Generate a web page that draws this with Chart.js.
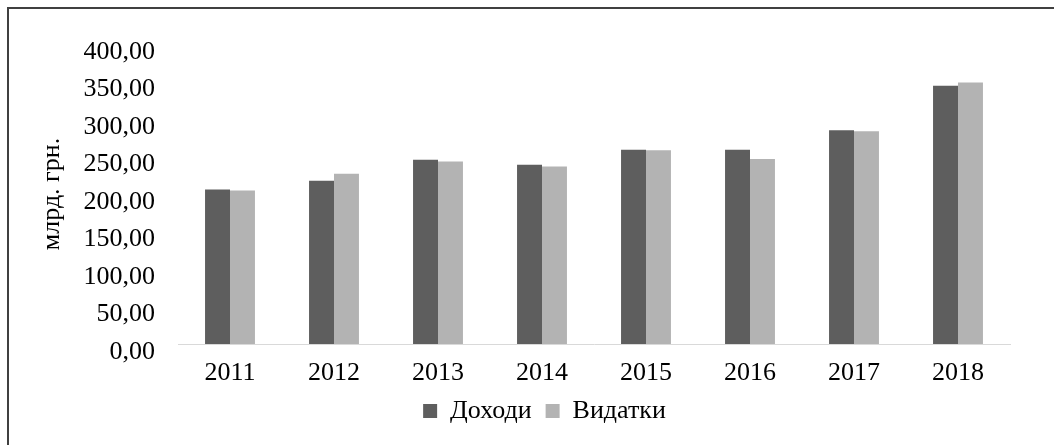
<!DOCTYPE html>
<html>
<head>
<meta charset="utf-8">
<script src="https://cdn.jsdelivr.net/npm/chart.js@4/dist/chart.umd.min.js"></script>
<style>
  html, body { margin: 0; padding: 0; background: #fff; }
  #wrap { width: 1054px; height: 445px; position: relative; }
</style>
</head>
<body>
<div id="wrap"><canvas id="barChart"></canvas></div>
<script>
// data
var years = ["2011", "2012", "2013", "2014", "2015", "2016", "2017", "2018"];
var revenues = [206.0, 217.7, 245.8, 239.1, 259.1, 259.1, 284.9, 344.2];
var expenses = [204.7, 227.0, 243.5, 236.8, 258.2, 246.6, 283.6, 348.7];
var yTickLabels = ["0,00", "50,00", "100,00", "150,00", "200,00", "250,00", "300,00", "350,00", "400,00"];

var serif = "'Liberation Serif', 'Times New Roman', serif";

// frame round the chart (only left and top edges are in the picture)
// + nudge the legend a bit right like in the original
var framePlugin = {
	id: 'frame',
	afterLayout: function (chart) {
		if (chart.legend) {
			chart.legend.left += 23;
			chart.legend.right += 23;
		}
	},
	afterDraw: function (chart) {
		var c = chart.ctx;
		c.save();
		c.strokeStyle = '#404040';
		c.lineWidth = 2;
		c.beginPath();
		c.moveTo(8, chart.height);
		c.lineTo(8, 8);
		c.lineTo(chart.width, 8);
		c.stroke();
		c.restore();
	}
};

var ctx = document.getElementById("barChart").getContext('2d');

var myChart = new Chart(ctx, {
	type: 'bar',
	data: {
		labels: years,
		datasets: [{
			label: "Доходи",
			data: revenues,
			backgroundColor: "#5e5e5e",
			borderWidth: 0
		}, {
			label: "Видатки",
			data: expenses,
			backgroundColor: "#b3b3b3",
			borderWidth: 0
		}]
	},
	options: {
		responsive: true,
		maintainAspectRatio: false,
		animation: false,
		layout: {
			padding: { left: 33, right: 44, top: 44, bottom: 11 }
		},
		datasets: {
			bar: { categoryPercentage: 0.48, barPercentage: 1.0 }
		},
		plugins: {
			tooltip: { enabled: false },
			legend: {
				display: true,
				position: 'bottom',
				labels: {
					color: '#000',
					font: { family: serif, size: 26 },
					boxWidth: 14,
					boxHeight: 14,
					padding: 14
				}
			}
		},
		scales: {
			x: {
				afterFit: function (scale) { scale.height = 40; },
				grid: { display: false, drawTicks: false },
				border: { display: true, color: '#d9d9d9', width: 1 },
				ticks: {
					color: '#000',
					font: { family: serif, size: 26 },
					padding: 14
				}
			},
			y: {
				min: 0,
				max: 400,
				afterFit: function (scale) { scale.width = 145; },
				grid: { display: false, drawTicks: false },
				border: { display: false },
				title: {
					display: true,
					text: "млрд. грн.",
					color: '#000',
					font: { family: serif, size: 26 },
					padding: { top: 4, bottom: 4 }
				},
				ticks: {
					stepSize: 50,
					color: '#000',
					font: { family: serif, size: 26 },
					padding: 23,
					labelOffset: 8,
					callback: function (value) {
						return yTickLabels[Math.round(value / 50)];
					}
				}
			}
		}
	},
	plugins: [framePlugin]
});
</script>
</body>
</html>
